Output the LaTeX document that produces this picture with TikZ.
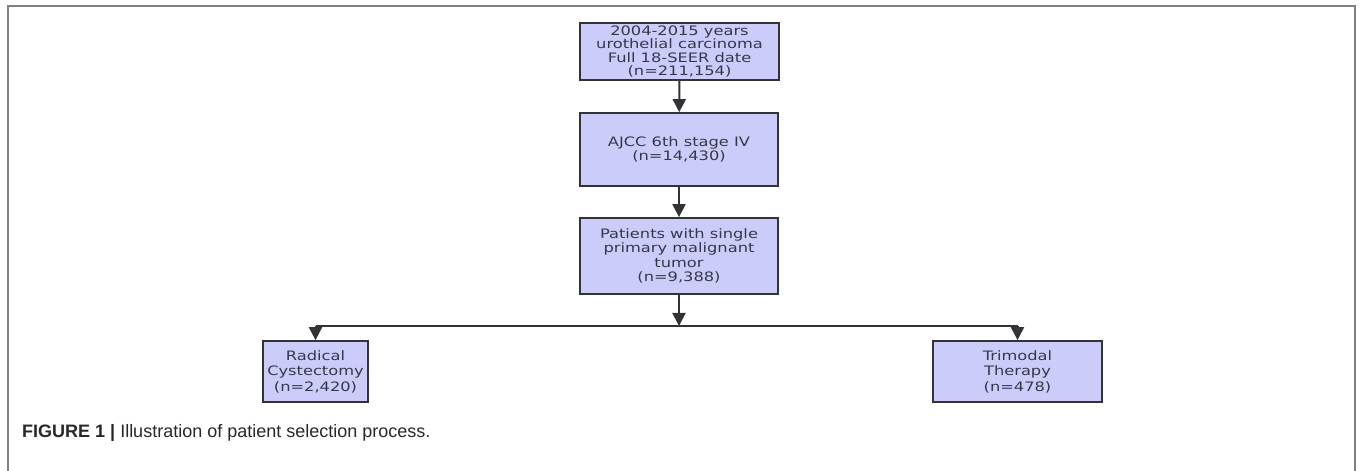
\documentclass[tikz,border=0pt]{standalone}
\usepackage{fontspec}
\setmainfont{Liberation Sans}
\newfontfamily\boxfont[FakeStretch=1.25]{DejaVu Sans}
\usetikzlibrary{arrows.meta}
\definecolor{boxfill}{RGB}{204,204,250}
\definecolor{boxline}{RGB}{50,50,55}
\definecolor{boxtext}{RGB}{55,55,75}
\definecolor{framegray}{RGB}{128,128,128}
\definecolor{captext}{RGB}{40,40,40}
\tikzset{
  stepbox/.style={draw=boxline, line width=1.7bp, fill=boxfill, text=boxtext,
    align=center, inner sep=0pt,
    font=\boxfont\fontsize{13bp}{14.2bp}\selectfont},
  arr/.style={draw=boxline, line width=2bp, -{Triangle[width=13bp,length=13bp]}},
  plain/.style={draw=boxline, line width=2bp},
}
\begin{document}
\begin{tikzpicture}[x=1bp,y=-1bp]
\useasboundingbox (0,0) rectangle (1360,471);
\fill[white] (0,0) rectangle (1360,471);
\draw[framegray, line width=2bp] (8,471) -- (8,6) -- (1355,6) -- (1355,471);
\node[stepbox, minimum width=199bp, minimum height=57bp,
  font=\boxfont\fontsize{13bp}{13.4bp}\selectfont] (b1) at (679.5,51.5)
  {2004-2015 years\\urothelial carcinoma\\Full 18-SEER date\\(n=211,154)};
\node[stepbox, minimum width=198bp, minimum height=73bp] (b2) at (679,149.5)
  {AJCC 6th stage IV\\(n=14,430)};
\node[stepbox, minimum width=198bp, minimum height=76bp] (b3) at (679,256)
  {Patients with single\\primary malignant\\tumor\\(n=9,388)};
\node[stepbox, minimum width=105bp, minimum height=61bp,
  font=\boxfont\fontsize{13bp}{15.5bp}\selectfont] (rc) at (315.5,371.5)
  {Radical\\Cystectomy\\(n=2,420)};
\node[stepbox, minimum width=169bp, minimum height=61bp,
  font=\boxfont\fontsize{13bp}{15.5bp}\selectfont] (tt) at (1017.5,371.5)
  {Trimodal\\Therapy\\(n=478)};
\coordinate (j) at (679,326);
\coordinate (jl) at (rc.north |- j);
\coordinate (jr) at (tt.north |- j);
\draw[arr] (b1) -- (b2);
\draw[arr] (b2) -- (b3);
\draw[plain] (jl) -- (jr);
\draw[arr] (b3) -- (j);
\draw[arr] (jl) -- (rc);
\draw[arr] (jr) -- (tt);
\node[anchor=base west, inner sep=0pt, text=captext, font=\fontsize{18bp}{21bp}\selectfont] (cap) at (22,437)
  {\textbf{FIGURE 1 |} Illustration of patient selection process.};
\end{tikzpicture}
\end{document}
